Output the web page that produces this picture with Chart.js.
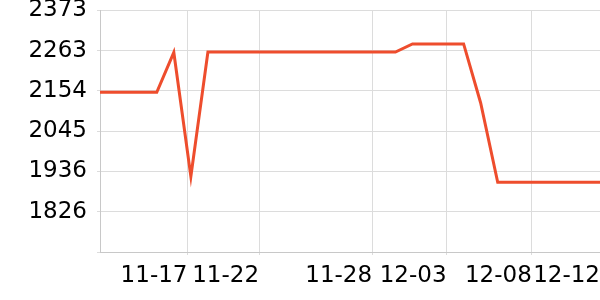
<!DOCTYPE html>
<html>
<head>
<meta charset="utf-8">
<script src="https://cdn.jsdelivr.net/npm/chart.js@4"></script>
<style>
  body { margin: 0; background: #fff; }
</style>
</head>
<body>
<canvas id="chart" width="600" height="300"></canvas>
<script>
// values, one per sample (first one sits left of the plot edge)
const points = [0, 1, 2, 3, 4, 5, 6, 7, 8, 9, 10, 11, 12, 13, 14, 15,
    16, 17, 18, 19, 20, 21, 22, 23, 24, 25, 26, 27, 28, 29, 30];
const values = [2150, 2150, 2150, 2150, 2150, 2258, 1922, 2259, 2259, 2259,
    2259, 2259, 2259, 2259, 2259, 2259, 2259, 2259, 2259, 2281, 2281, 2281,
    2281, 2121, 1906, 1906, 1906, 1906, 1906, 1906, 1906];

// date ticks on the x axis (where they fall between samples)
const xTickAt = [5.8, 10, 16.63, 21, 26, 30];
const xTickLabels = ['11-17', '11-22', '11-28', '12-03', '12-08', '12-12'];

// y axis ticks, bottom one has no label
const yTicks = [1717, 1826, 1936, 2045, 2154, 2263, 2373];
const yTickLabels = ['', '1826', '1936', '2045', '2154', '2263', '2373'];

Chart.defaults.font.family = 'DejaVu Sans';
Chart.defaults.font.size = 23;
Chart.defaults.color = '#000';

const ctx = document.getElementById('chart').getContext('2d');

const myChart = new Chart(ctx, {
    type: 'line',
    data: {
        datasets: [{
            data: points.map((p, i) => ({ x: p, y: values[i] })),
            borderColor: 'rgb(238, 77, 45)',
            borderWidth: 3,
            pointRadius: 0,
            tension: 0,
            fill: false
        }]
    },
    options: {
        responsive: false,
        animation: false,
        layout: { padding: 0 },
        plugins: {
            legend: { display: false },
            tooltip: { enabled: false }
        },
        scales: {
            x: {
                type: 'linear',
                min: 0.67,
                max: 30,
                grid: { color: '#dcdcdc', tickLength: 3 },
                border: { color: '#c8c8c8' },
                afterBuildTicks: scale => {
                    scale.ticks = xTickAt.map(v => ({ value: v }));
                },
                afterFit: scale => {
                    scale.height = 48;
                    scale.paddingLeft = 0;
                    scale.paddingRight = 0;
                },
                ticks: {
                    align: 'end',
                    maxRotation: 0,
                    autoSkip: false,
                    padding: 7,
                    callback: (v, i) => xTickLabels[i]
                }
            },
            y: {
                min: 1717,
                max: 2373,
                grid: { color: '#dcdcdc', tickLength: 3 },
                border: { color: '#c8c8c8' },
                afterBuildTicks: scale => {
                    scale.ticks = yTicks.map(v => ({ value: v }));
                },
                afterFit: scale => {
                    scale.width = 100;
                    scale.paddingTop = 10;
                    scale.paddingBottom = 0;
                },
                ticks: {
                    padding: 10,
                    autoSkip: false,
                    callback: (v, i) => yTickLabels[i]
                }
            }
        }
    }
});
</script>
</body>
</html>
